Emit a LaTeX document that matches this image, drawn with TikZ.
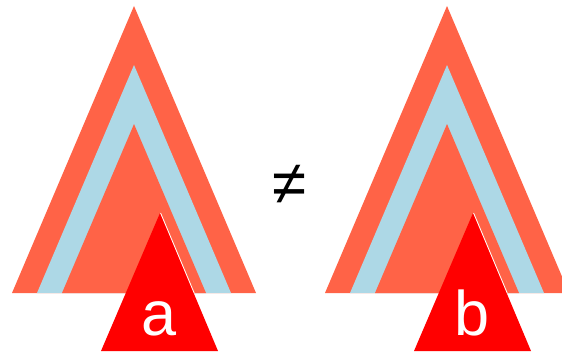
\documentclass[tikz,border=0pt]{standalone}
\usepackage{fontspec}
\setmainfont{Liberation Sans}
\definecolor{tomato}{HTML}{FF6347}
\definecolor{lightblue}{HTML}{ADD8E6}
\tikzset{
  letter/.style={text=white, inner sep=0pt, anchor=base,
    font=\fontsize{63}{63}\selectfont},
}
\begin{document}
\begin{tikzpicture}[x=1pt, y=-1pt]
    \useasboundingbox (0,0) rectangle (562,353);
    \clip (0,0) rectangle (562,353);

    \foreach \dx/\lab in {0/a, 313/b} {
        \begin{scope}[xshift=\dx pt]
            \fill[tomato] (134,6) -- (256,293) -- (12,293) -- cycle;
            \fill[lightblue] (134,65) -- (231,293) -- (37,293) -- cycle;
            \fill[tomato] (134,124) -- (206,293) -- (62,293) -- cycle;

            \fill[red] (160,213) -- (218,351) -- (101,351) -- cycle;
            \draw[white, line width=0.8pt] (160.6,213) -- (194.2,293);
            \node[letter] (lab-\lab) at (159,335) {\lab};
        \end{scope}
    }

    \node[inner sep=0pt, font=\fontsize{62}{62}\selectfont] (neq) at (290,185) {≠};
\end{tikzpicture}
\end{document}
